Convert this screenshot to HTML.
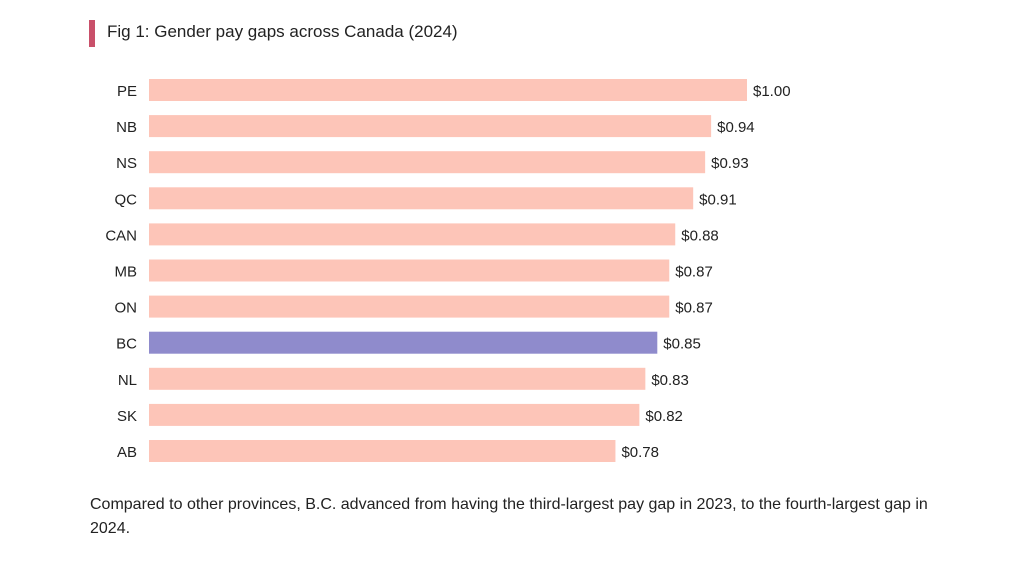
<!DOCTYPE html>
<html><head><meta charset="utf-8"><style>
body{margin:0;width:1024px;height:571px;background:#fff;font-family:"Liberation Sans","DejaVu Sans",sans-serif;color:#222;overflow:hidden;position:relative}
#title{position:absolute;left:107px;top:22px;font-size:17px}
#accent{position:absolute;left:89px;top:20px;width:6px;height:27px;background:#c9506a}
#note{position:absolute;left:90px;top:493px;width:845px;font-size:16px;line-height:24px}
svg{position:absolute;left:0;top:0}
</style></head><body>
<div id="accent"></div>
<div id="title">Fig 1: Gender pay gaps across Canada (2024)</div>
<svg id="chart" width="1024" height="571"></svg>
<div id="note">Compared to other provinces, B.C. advanced from having the third-largest pay gap in 2023, to the fourth-largest gap in 2024.</div>
<script>
const categories=["PE","NB","NS","QC","CAN","MB","ON","BC","NL","SK","AB"];
const values=[1.00,0.94,0.93,0.91,0.88,0.87,0.87,0.85,0.83,0.82,0.78];
const labels=["$1.00","$0.94","$0.93","$0.91","$0.88","$0.87","$0.87","$0.85","$0.83","$0.82","$0.78"];
const highlight="BC";
const svg=document.getElementById('chart');
const NS='http://www.w3.org/2000/svg';
const x0=149, xs=598;
function xScale(v){return x0+v*xs;}
function yScale(i){return 79+i*36.1;}
categories.forEach((c,i)=>{
  const y=yScale(i);
  const r=document.createElementNS(NS,'rect');
  r.setAttribute('x',x0);r.setAttribute('y',y);
  r.setAttribute('width',xScale(values[i])-x0);r.setAttribute('height',22);
  r.setAttribute('fill',c===highlight?'#8f8bcc':'#fdc5b8');
  
  
  svg.appendChild(r);
  const t=document.createElementNS(NS,'text');
  t.setAttribute('x',137);t.setAttribute('y',y+17);
  t.setAttribute('text-anchor','end');t.setAttribute('font-size','15');t.setAttribute('fill','#222');
  t.textContent=c;
  
  
  svg.appendChild(t);
  const v=document.createElementNS(NS,'text');
  v.setAttribute('x',xScale(values[i])+6);v.setAttribute('y',y+17);
  v.setAttribute('font-size','15');v.setAttribute('fill','#222');
  v.textContent=labels[i];
  
  
  svg.appendChild(v);
});
</script>
</body></html>
